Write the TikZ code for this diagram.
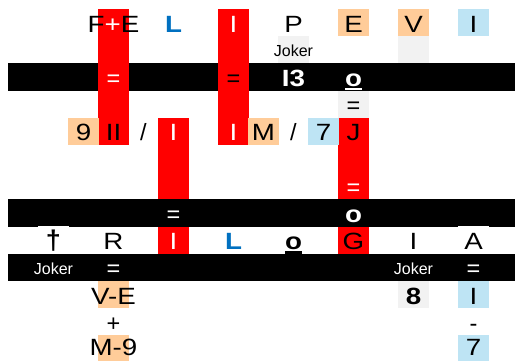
\documentclass[tikz,border=0pt]{standalone}
\usepackage{fontspec}
\setmainfont{Liberation Sans}
\definecolor{peach}{RGB}{255,204,153}
\definecolor{sky}{RGB}{190,228,244}
\definecolor{pale}{RGB}{242,242,242}
\definecolor{redc}{RGB}{255,0,0}
\definecolor{bluetxt}{RGB}{0,112,192}
\newcommand\bgcell[3]{\fill[#1] ({8+30*#2},{9+27.2*#3}) rectangle ++(31,27.2);}
% stretched text (letters, digits)
\newcommand\txt[5]{\node[#1] (#2) at ({23.5+30*#3},{23.6+27.2*#4}) {\scalebox{1.18}[1]{#5}};}
% unstretched text (signs, small words)
\newcommand\txts[5]{\node[#1] (#2) at ({23.5+30*#3},{23.6+27.2*#4}) {#5};}
\newcommand\myul[1]{\setbox0\hbox{#1}\rlap{\rule[-4pt]{\wd0}{2.6pt}}\box0}
\tikzset{
  big/.style={inner sep=0pt, text height=16.8pt, text depth=0pt, font=\fontsize{23.5}{23.5}\selectfont},
  small/.style={inner sep=0pt, text height=11.7pt, text depth=0pt, font=\fontsize{16}{16}\selectfont},
  wt/.style={text=white},
}
\begin{document}
\begin{tikzpicture}[x=1pt,y=-1pt]
\useasboundingbox (0,0) rectangle (515,360);
% black bar 1 (under red columns)
\fill[black] (8,{9+27.2*2}) rectangle (515,{9+27.2*3});
% red columns
\fill[redc] (98,9) rectangle (129,{9+27.2*5});
\fill[redc] (218,9) rectangle (249,{9+27.2*5});
\fill[redc] (158,{9+27.2*4}) rectangle (189,{9+27.2*9});
\fill[redc] (338,{9+27.2*4}) rectangle (369,{9+27.2*9});
% black bars 2 and 3 (over red columns)
\fill[black] (8,{9+27.2*7}) rectangle (515,{9+27.2*8});
\fill[black] (8,{9+27.2*9}) rectangle (515,{9+27.2*10});
% cell backgrounds
\bgcell{peach}{11}{0}
\bgcell{peach}{13}{0}
\bgcell{sky}{15}{0}
\bgcell{pale}{9}{1}
\bgcell{pale}{13}{1}
\bgcell{pale}{11}{3}
\bgcell{peach}{2}{4}
\bgcell{peach}{8}{4}
\bgcell{sky}{10}{4}
\fill[white] (38,226) rectangle (69,{9+27.2*9});
\fill[white] (458,226) rectangle (489,{9+27.2*9});
\bgcell{peach}{3}{10}
\bgcell{pale}{13}{10}
\bgcell{sky}{15}{10}
\bgcell{peach}{3}{12}
\bgcell{sky}{15}{12}
% row 0
\txt{big}{fe}{3}{0}{F{\color{white}+}E}
\txt{big,text=bluetxt}{l1}{5}{0}{\textbf{L}}
\txt{big,wt}{i1}{7}{0}{I}
\txt{big}{p1}{9}{0}{P}
\txt{big}{e1}{11}{0}{E}
\txt{big}{v1}{13}{0}{V}
\txt{big}{i2}{15}{0}{I}
% row 1
\txts{small}{jk1}{9}{1}{Joker}
% row 2
\txts{big,wt}{eq1}{3}{2}{=}
\txts{big}{eq2}{7}{2}{=}
\txt{big,wt}{i3}{9}{2}{\textbf{I3}}
\txt{big,wt}{o1}{11}{2}{\myul{\textbf{o}}}
% row 3
\txts{big}{eq3}{11}{3}{=}
% row 4
\txt{big}{n9}{2}{4}{9}
\txt{big}{ii}{3}{4}{II}
\txts{big}{sl1}{4}{4}{/}
\txt{big,wt}{i4}{5}{4}{I}
\txt{big,wt}{i5}{7}{4}{I}
\txt{big}{m1}{8}{4}{M}
\txts{big}{sl2}{9}{4}{/}
\txt{big}{n7}{10}{4}{7}
\txt{big}{j1}{11}{4}{J}
% row 6
\txts{big,wt}{eq4}{11}{6}{=}
% row 7
\txts{big,wt}{eq5}{5}{7}{=}
\txt{big,wt}{o2}{11}{7}{\textbf{o}}
% row 8
\node[inner sep=0pt, font=\fontsize{27}{27}\selectfont\bfseries] (dag) at (53.5,240.5) {†};
\txt{big}{r1}{3}{8}{R}
\txt{big,wt}{i6}{5}{8}{I}
\txt{big,text=bluetxt}{l2}{7}{8}{\textbf{L}}
\txt{big}{o3}{9}{8}{\myul{\textbf{o}}}
\txt{big}{g1}{11}{8}{G}
\txt{big}{i7}{13}{8}{I}
\txt{big}{a1}{15}{8}{A}
% row 9
\txts{small,wt}{jk2}{1}{9}{Joker}
\txts{big,wt}{eq6}{3}{9}{=}
\txts{small,wt}{jk3}{13}{9}{Joker}
\txts{big,wt}{eq7}{15}{9}{=}
% row 10
\txt{big}{ve}{3}{10}{V-E}
\txt{big}{n8}{13}{10}{\textbf{8}}
\txt{big}{i8}{15}{10}{I}
% row 11
\txts{big}{plus}{3}{11}{+}
\txts{big}{minus}{15}{11}{-}
% row 12
\node[big] (m9) at (113.5,347.5) {\scalebox{1.18}[1]{M-9}};
\node[big] (n7b) at (473.5,347.5) {\scalebox{1.18}[1]{7}};
\end{tikzpicture}
\end{document}
